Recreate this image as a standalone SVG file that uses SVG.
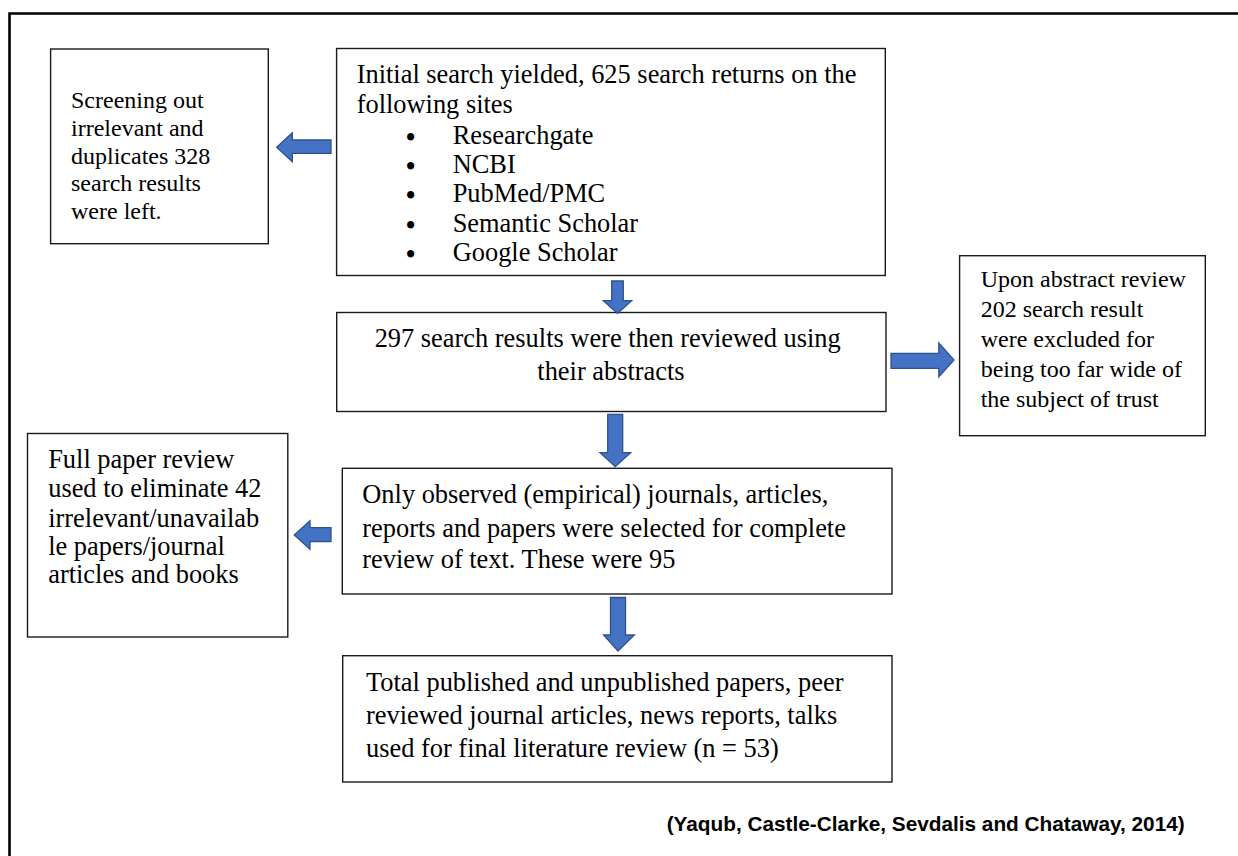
<svg xmlns="http://www.w3.org/2000/svg" width="1238" height="856" viewBox="0 0 1238 856">
<style>
.box{fill:#fff;stroke:#1a1a1a;stroke-width:1.4}
.t{font-family:"Liberation Serif","Times New Roman",serif;fill:#000}
.s24{font-size:24px}
.s26{font-size:26.4px}
.bul{font-family:"Liberation Serif","Times New Roman",serif;font-size:26.4px;font-weight:bold;fill:#000}
.arr{fill:#4472C4;stroke:#2F528F;stroke-width:1.3;stroke-linejoin:miter}
.cite{font-family:"Liberation Sans",Arial,sans-serif;font-weight:bold;font-size:21px;fill:#000}
</style>
<rect width="1238" height="856" fill="#fff"/>
<path d="M9.5,860 L9.5,13.5 L1240,13.5" fill="none" stroke="#000" stroke-width="2.6"/>

<g id="node-screening">
<rect class="box" x="50.6" y="49" width="217.7" height="194.7"/>
<text class="t s24" x="71">
<tspan x="71" y="108">Screening out</tspan>
<tspan x="71" y="136">irrelevant and</tspan>
<tspan x="71" y="163.5">duplicates 328</tspan>
<tspan x="71" y="191">search results</tspan>
<tspan x="71" y="219">were left.</tspan>
</text>
</g>

<g id="node-initial">
<rect class="box" x="336.6" y="48.5" width="548.7" height="227"/>
<text class="t s26">
<tspan x="356.7" y="83.3">Initial search yielded, 625 search returns on the</tspan>
<tspan x="356.7" y="112.7">following sites</tspan>
</text>
<g class="bul" text-anchor="middle">
<text x="410.7" y="146.3">•</text>
<text x="410.7" y="175.3">•</text>
<text x="410.7" y="204.3">•</text>
<text x="410.7" y="233.7">•</text>
<text x="410.7" y="262.7">•</text>
</g>
<g class="t s26">
<text x="452.7" y="144.3">Researchgate</text>
<text x="452.7" y="173.3">NCBI</text>
<text x="452.7" y="202.3">PubMed/PMC</text>
<text x="452.7" y="231.7">Semantic Scholar</text>
<text x="452.7" y="260.7">Google Scholar</text>
</g>
</g>

<g id="node-abstracts">
<rect class="box" x="336.7" y="312.5" width="549.3" height="99"/>
<text class="t s26" text-anchor="middle">
<tspan x="611" y="346.7">297 search results were then reviewed using</tspan>
<tspan x="611" y="380">their abstracts</tspan>
</text>
</g>

<g id="node-excluded">
<rect class="box" x="959.6" y="255.7" width="245.7" height="180"/>
<text class="t s24">
<tspan x="980.7" y="287.3">Upon abstract review</tspan>
<tspan x="980.7" y="317">202 search result</tspan>
<tspan x="980.7" y="347">were excluded for</tspan>
<tspan x="980.7" y="376.7">being too far wide of</tspan>
<tspan x="980.7" y="406.7">the subject of trust</tspan>
</text>
</g>

<g id="node-empirical">
<rect class="box" x="342.3" y="468.3" width="549.7" height="125.7"/>
<text class="t s26">
<tspan x="362.3" y="503.3">Only observed (empirical) journals, articles,</tspan>
<tspan x="362.3" y="536.7">reports and papers were selected for complete</tspan>
<tspan x="362.3" y="568.3">review of text. These were 95</tspan>
</text>
</g>

<g id="node-fullpaper">
<rect class="box" x="27.5" y="433.5" width="260.3" height="203.5"/>
<text class="t s26">
<tspan x="48.2" y="468.3">Full paper review</tspan>
<tspan x="48.2" y="497.3">used to eliminate 42</tspan>
<tspan x="48.2" y="526.7">irrelevant/unavailab</tspan>
<tspan x="48.2" y="555">le papers/journal</tspan>
<tspan x="48.2" y="583.3">articles and books</tspan>
</text>
</g>

<g id="node-final">
<rect class="box" x="342.7" y="655.7" width="549.3" height="126.3"/>
<text class="t s26">
<tspan x="366" y="690.5">Total published and unpublished papers, peer</tspan>
<tspan x="366" y="723.5">reviewed journal articles, news reports, talks</tspan>
<tspan x="366" y="757">used for final literature review (n = 53)</tspan>
</text>
</g>

<g id="connectors">
<path class="arr" d="M331,140 L292.3,140 L292.3,132.7 L276.7,147.2 L292.3,161.7 L292.3,153.3 L331,153.3 Z"/>
<path class="arr" d="M611.7,281 L623.3,281 L623.3,300.7 L631.7,300.7 L617.5,313.3 L603.3,300.7 L611.7,300.7 Z"/>
<path class="arr" d="M891,353.3 L938.8,353.3 L938.8,343 L954,360 L938.8,376.7 L938.8,368.3 L891,368.3 Z"/>
<path class="arr" d="M607.7,414.3 L622.7,414.3 L622.7,452.7 L630.7,452.7 L615.3,466.7 L600,452.7 L607.7,452.7 Z"/>
<path class="arr" d="M331,527.7 L310,527.7 L310,520.7 L294.3,535 L310,549.3 L310,541.7 L331,541.7 Z"/>
<path class="arr" d="M610.5,597.5 L625.5,597.5 L625.5,635 L634.4,635 L618,651 L603.6,635 L610.5,635 Z"/>
</g>

<text class="cite" x="666.7" y="831" textLength="518" lengthAdjust="spacingAndGlyphs">(Yaqub, Castle-Clarke, Sevdalis and Chataway, 2014)</text>
</svg>
